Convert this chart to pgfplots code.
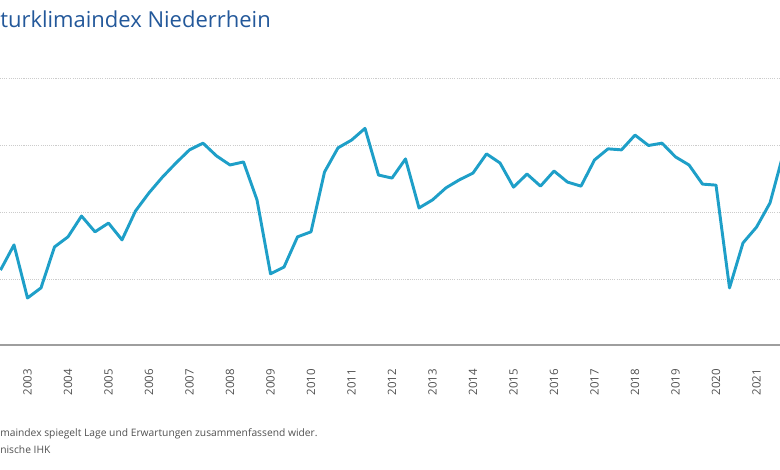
\documentclass[border=0pt]{standalone}
\usepackage{pgfplots}
\pgfplotsset{compat=1.18}
\usepackage{pgfplotstable}
\usepackage{fontspec}
\setmainfont{Open Sans}
\definecolor{linec}{HTML}{1E9FC8}
\definecolor{titlec}{HTML}{23589A}
\definecolor{txtc}{HTML}{505050}
\pgfplotstableread{
i v
-2 82.9
-1 90.4
0 74.6
1 77.6
2 89.8
3 92.8
4 99.0
5 94.3
6 96.9
7 91.9
8 100.5
9 105.9
10 110.6
11 114.8
12 118.7
13 120.7
14 116.9
15 114.2
16 115.1
17 103.8
18 81.8
19 83.8
20 92.8
21 94.3
22 112.1
23 119.3
24 121.6
25 125.1
26 111.2
27 110.3
28 116.0
29 101.4
30 103.8
31 107.4
32 109.8
33 111.8
34 117.5
35 114.8
36 107.6
37 111.5
38 107.9
39 112.4
40 109.1
41 107.9
42 115.7
43 119.0
44 118.7
45 123.1
46 120.0
47 120.7
48 116.6
49 114.2
50 108.5
51 108.2
52 77.6
53 91.0
54 95.7
55 102.9
56 117.8
}\dataK
\begin{document}
\begin{tikzpicture}
\useasboundingbox (0,0) rectangle (585pt,352.5pt);
\clip (0,0) rectangle (585pt,352.5pt);
\begin{axis}[
  at={(0pt,93.75pt)}, anchor=south west,
  width=585pt, height=200pt, scale only axis,
  xmin=-2.037, xmax=55.74, ymin=60.6, ymax=140,
  axis x line*=bottom, axis y line*=left,
  x axis line style={-, draw=black!38, line width=0.9pt},
  y axis line style={draw=none},
  xtick={0,3,6,9,12,15,18,21,24,27,30,33,36,39,42,45,48,51,54},
  xticklabels={2003,2004,2005,2006,2007,2008,2009,2010,2011,2012,2013,2014,2015,2016,2017,2018,2019,2020,2021},
  major tick length=0pt,
  xticklabel style={rotate=90, anchor=east, font=\fontsize{8.6}{10}\selectfont, text=txtc},
  xticklabel shift=14.5pt,
  ytick={80,100,120,140}, yticklabels={},
  ymajorgrids,
  grid style={dash pattern=on 0.8pt off 0.8pt, draw=black!20, line width=0.6pt},
  clip=true,
]
\addplot[linec, line width=2.2pt, line join=round] table[x=i, y=v] {\dataK};
\end{axis}
\node[anchor=base west, inner sep=0pt, text=titlec, font=\fontsize{16.5}{19}\selectfont] at (0pt,332pt) {turklimaindex Niederrhein};
\node[anchor=base west, inner sep=0pt, text=txtc, font=\fontsize{7.7}{9}\selectfont] at (0pt,25pt) {maindex spiegelt Lage und Erwartungen zusammenfassend wider.};
\node[anchor=base west, inner sep=0pt, text=txtc, font=\fontsize{7.7}{9}\selectfont] at (0pt,12.3pt) {nische IHK};
\end{tikzpicture}
\end{document}
